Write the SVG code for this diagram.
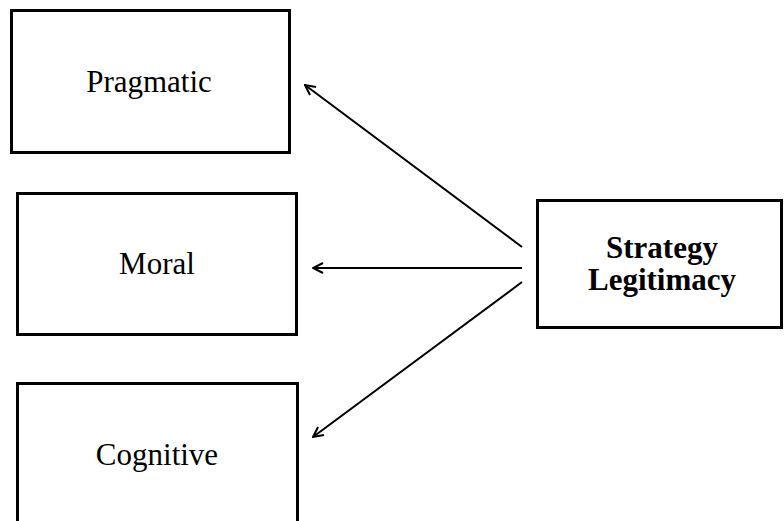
<svg xmlns="http://www.w3.org/2000/svg" width="784" height="521" viewBox="0 0 784 521">
  <style>
    .box { fill: #fff; stroke: #000; stroke-width: 3; }
    .label { font-family: "Liberation Serif", "Times New Roman", serif; font-size: 31px; fill: #000; text-anchor: middle; }
    .bold { font-weight: bold; }
    .conn { stroke: #000; stroke-width: 2; fill: none; marker-end: url(#chev); }
  </style>
  <defs>
    <marker id="chev" viewBox="0 0 12 12" refX="11" refY="6" markerWidth="12" markerHeight="12" markerUnits="userSpaceOnUse" orient="auto">
      <polyline points="1,1 11,6 1,11" fill="none" stroke="#000" stroke-width="2"/>
    </marker>
  </defs>

  <rect width="784" height="521" fill="#fff"/>

  <g id="pragmatic">
    <rect class="box" x="11.5" y="10.5" width="278" height="142"/>
    <text class="label" x="149" y="92">Pragmatic</text>
  </g>

  <g id="moral">
    <rect class="box" x="17.5" y="193.5" width="279" height="141"/>
    <text class="label" x="157" y="274">Moral</text>
  </g>

  <g id="cognitive">
    <rect class="box" x="17.5" y="383.5" width="280" height="150"/>
    <text class="label" x="157" y="465">Cognitive</text>
  </g>

  <g id="strategy-legitimacy">
    <rect class="box" x="537.5" y="200.5" width="244" height="127"/>
    <text class="label bold" x="662" y="258">Strategy</text>
    <text class="label bold" x="662" y="290">Legitimacy</text>
  </g>

  <g id="connectors">
    <line class="conn" x1="522" y1="247" x2="305" y2="85"/>
    <line class="conn" x1="522" y1="268" x2="313" y2="268"/>
    <line class="conn" x1="522" y1="282" x2="313" y2="437"/>
  </g>
</svg>
